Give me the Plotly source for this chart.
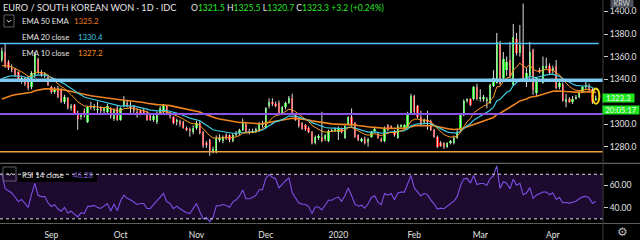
import plotly.graph_objects as go
import pandas as pd

# ---------------- data ----------------
DATES = pd.bdate_range("2019-08-12", "2020-04-20")

OPEN = [
    # Aug
    1357, 1364, 1355, 1350, 1349, 1346, 1339, 1341, 1341, 1333, 1343, 1358, 1345, 1343, 1342,
    # Sep
    1333, 1329, 1332, 1330, 1320, 1323, 1314, 1317, 1310, 1306, 1312, 1302, 1316, 1314, 1313, 1315, 1312, 1311, 1314, 1305, 1314,
    # Oct
    1304, 1316, 1319, 1316, 1315, 1311, 1312, 1311, 1310, 1308, 1304, 1302, 1310, 1311, 1316, 1309, 1306, 1302, 1303, 1302, 1297, 1295, 1293,
    # Nov
    1297, 1301, 1293, 1283, 1286, 1276, 1275, 1286, 1285, 1290, 1290, 1285, 1290, 1292, 1295, 1300, 1294, 1293, 1294, 1294, 1300,
    # Dec
    1297, 1316, 1319, 1318, 1319, 1310, 1315, 1319, 1323, 1308, 1304, 1301, 1299, 1297, 1293, 1283, 1288, 1289, 1287, 1285, 1294, 1294,
    # Jan
    1293, 1296, 1288, 1300, 1306, 1301, 1290, 1285, 1287, 1284, 1289, 1294, 1291, 1287, 1285, 1299, 1298, 1294, 1288, 1298, 1297, 1297, 1310,
    # Feb
    1325, 1316, 1306, 1302, 1304, 1303, 1295, 1289, 1283, 1283, 1280, 1283, 1283, 1288, 1295, 1308, 1321, 1322, 1322, 1333,
    # Mar
    1322, 1322, 1321, 1319, 1334, 1337, 1372, 1341, 1348, 1357, 1335, 1376, 1363, 1370, 1340, 1343, 1366, 1328, 1348, 1337, 1350, 1352,
    # Apr
    1347, 1352, 1333, 1336, 1320, 1322, 1320, 1323, 1324, 1329, 1333, 1334, 1331, 1321.5,
]
HIGH = [
    1368, 1372, 1357, 1353, 1350, 1347, 1343, 1342, 1343, 1347, 1364, 1359, 1348, 1346, 1344,
    1334, 1333, 1334, 1332, 1326, 1324, 1318, 1318, 1312, 1310, 1314, 1316, 1320, 1318, 1320, 1316, 1315, 1318, 1315, 1314, 1316,
    1315, 1325, 1321, 1320, 1317, 1314, 1313, 1314, 1312, 1309, 1309, 1311, 1316, 1318, 1317, 1311, 1307, 1305, 1304, 1303, 1298, 1297, 1299,
    1303, 1303, 1294, 1285, 1287, 1280, 1290, 1291, 1290, 1292, 1291, 1292, 1294, 1296, 1305, 1302, 1296, 1296, 1297, 1302, 1303,
    1315, 1323, 1323, 1320, 1321, 1316, 1320, 1325, 1327, 1309, 1306, 1302, 1300, 1298, 1294, 1290, 1291, 1311, 1291, 1295, 1296, 1297,
    1298, 1297, 1299, 1307, 1314, 1302, 1291, 1288, 1289, 1288, 1294, 1297, 1293, 1288, 1298, 1300, 1299, 1295, 1300, 1300, 1300, 1311, 1327,
    1326, 1317, 1312, 1305, 1312, 1304, 1296, 1290, 1285, 1284, 1284, 1286, 1290, 1296, 1309, 1322, 1323, 1323, 1334, 1336,
    1331, 1326, 1324, 1336, 1348, 1381, 1374, 1364, 1360, 1373, 1389, 1381, 1388, 1407, 1350, 1373, 1367, 1342, 1350, 1360, 1359, 1354,
    1352, 1357, 1338, 1337, 1327, 1324, 1325, 1326, 1330, 1334, 1338, 1336, 1332, 1325.5,
]
LOW = [
    1355, 1350, 1348, 1346, 1342, 1338, 1336, 1334, 1330, 1331, 1341, 1344, 1342, 1341, 1334,
    1327, 1327, 1323, 1319, 1318, 1313, 1312, 1309, 1295, 1304, 1306, 1301, 1313, 1312, 1310, 1310, 1310, 1309, 1305, 1303, 1303,
    1303, 1315, 1315, 1310, 1310, 1306, 1308, 1309, 1303, 1303, 1302, 1300, 1309, 1310, 1308, 1305, 1300, 1299, 1298, 1296, 1294, 1289, 1291,
    1295, 1291, 1279, 1279, 1272, 1274, 1274, 1284, 1283, 1286, 1284, 1284, 1289, 1290, 1294, 1292, 1291, 1292, 1292, 1293, 1297,
    1296, 1314, 1316, 1315, 1309, 1308, 1313, 1318, 1309, 1303, 1297, 1295, 1294, 1292, 1282, 1282, 1286, 1284, 1285, 1284, 1293, 1293,
    1286, 1292, 1287, 1299, 1298, 1288, 1285, 1284, 1282, 1280, 1288, 1292, 1287, 1284, 1284, 1294, 1296, 1289, 1287, 1297, 1296, 1296, 1309,
    1310, 1305, 1299, 1300, 1295, 1294, 1288, 1279, 1280, 1278, 1279, 1282, 1282, 1287, 1294, 1307, 1319, 1316, 1321, 1321,
    1320, 1320, 1314, 1318, 1333, 1336, 1335, 1339, 1343, 1341, 1334, 1361, 1360, 1338, 1333, 1340, 1326, 1325, 1345, 1336, 1349, 1344,
    1345, 1331, 1331, 1320, 1315, 1319, 1318, 1322, 1323, 1328, 1331, 1329, 1318, 1320.7,
]
CLOSE = [
    1365, 1352, 1350, 1348, 1344, 1339, 1341, 1336, 1332, 1345, 1361, 1346, 1344, 1344, 1335,
    1329, 1331, 1324, 1320, 1324, 1314, 1316, 1310, 1305, 1309, 1308, 1315, 1315, 1316, 1313, 1312, 1314, 1316, 1307, 1313, 1304,
    1314, 1321, 1317, 1315, 1312, 1309, 1310, 1310, 1304, 1304, 1307, 1310, 1314, 1317, 1309, 1307, 1301, 1303, 1300, 1297, 1295, 1294, 1297,
    1301, 1292, 1281, 1282, 1275, 1278, 1288, 1288, 1289, 1288, 1286, 1290, 1292, 1295, 1301, 1293, 1293, 1294, 1296, 1301, 1301,
    1314, 1320, 1318, 1317, 1310, 1315, 1319, 1323, 1310, 1304, 1298, 1296, 1296, 1293, 1283, 1289, 1289, 1285, 1290, 1294, 1294, 1296,
    1297, 1293, 1298, 1306, 1299, 1289, 1286, 1287, 1283, 1287, 1293, 1295, 1288, 1285, 1297, 1295, 1297, 1290, 1298, 1299, 1299, 1310, 1325,
    1311, 1306, 1300, 1304, 1302, 1295, 1289, 1280, 1281, 1280, 1283, 1285, 1288, 1293, 1308, 1321, 1322, 1317, 1333, 1322,
    1324, 1324, 1322, 1335, 1341, 1373, 1336, 1358, 1355, 1343, 1377, 1363, 1370, 1339, 1345, 1364, 1330, 1341, 1346, 1352, 1352, 1345,
    1350, 1332, 1337, 1321, 1322, 1320, 1322, 1324, 1329, 1333, 1334, 1331, 1320.1, 1323.3,
]

# EMA (period, value just before first visible bar, colour, width)
EMA_SPECS = [(50, 1320.5, "#ee8420", 1.6), (20, 1338.0, "#3fcbe0", 1.2), (10, 1349.0, "#ff9a1f", 1.0)]
RSI_PERIOD = 14
RSI_SEED_GAIN, RSI_SEED_LOSS, RSI_PREV_CLOSE = 2.4, 1.2, 1357.0

LEVELS = [1371.6, 1339.0, 1309.0, 1275.6]
LEVEL_COLORS = ["#4fc3f7", "#7fcaf5", "#8a55e6", "#f0a040"]
LEVEL_WIDTHS = [1.5, 3.5, 2.0, 1.5]

# 1320.0 is hidden behind the last-price label in the reference
PRICE_TICKS = [1280, 1300, 1340, 1360, 1380, 1400]
RSI_TICKS = [40, 60]
RSI_BANDS = [30, 70]
MONTH_TICK_DATES = ["2019-09-02", "2019-10-01", "2019-11-01", "2019-12-02",
                    "2020-01-01", "2020-02-03", "2020-03-02", "2020-04-01"]
MONTH_TICK_LABELS = ["Sep", "Oct", "Nov", "Dec", "2020", "Feb", "Mar", "Apr"]

LEGEND_ROWS = [("EMA 50 EMA", "1325.2", "#f07a1a"),
               ("EMA 20 close", "1330.4", "#3fcbe0"),
               ("EMA 10 close", "1327.2", "#ff8c1a")]
RSI_LAST = "46.28"
COUNTDOWN = "20:05:17"
TITLE = "EURO / SOUTH KOREAN WON · 1D · IDC"

assert len(OPEN) == len(HIGH) == len(LOW) == len(CLOSE) == len(DATES)

# ---------------- derived ----------------
n = len(CLOSE)
idx = list(range(n))
tickvals = [DATES.get_loc(pd.Timestamp(d)) for d in MONTH_TICK_DATES]


def ema(values, period, seed):
    k = 2.0 / (period + 1)
    out, e = [], seed
    for v in values:
        e = e + k * (v - e)
        out.append(e)
    return out


def rsi(values, period, g0, l0, prev):
    out, ag, al = [], g0, l0
    for v in values:
        ch = v - prev
        ag = (ag * (period - 1) + max(ch, 0)) / period
        al = (al * (period - 1) + max(-ch, 0)) / period
        out.append(100 - 100 / (1 + ag / al))
        prev = v
    return out


GREEN, RED = "#1ee61e", "#f21414"
FONT = "Lato"
PW, H = 603.0, 240.0
XR = [-0.55, 182.2]


def px(x):
    return x / PW


def py(y):
    return 1 - y / H


fig = go.Figure()

# wicks
wx, wy = [], []
for i in idx:
    wx += [i, i, None]
    wy += [LOW[i], HIGH[i], None]
fig.add_trace(go.Scatter(x=wx, y=wy, mode="lines", line=dict(color="#dcdcdc", width=1),
                         hoverinfo="skip", xaxis="x", yaxis="y"))
# bodies
up = [i for i in idx if CLOSE[i] >= OPEN[i]]
dn = [i for i in idx if CLOSE[i] < OPEN[i]]
for sel, col in ((up, GREEN), (dn, RED)):
    fig.add_trace(go.Bar(x=sel, base=[min(OPEN[i], CLOSE[i]) for i in sel],
                         y=[max(abs(CLOSE[i] - OPEN[i]), 0.4) for i in sel],
                         width=0.72, marker=dict(color=col, line=dict(width=0)),
                         hoverinfo="skip", xaxis="x", yaxis="y"))
# EMAs
for period, seed, col, w in EMA_SPECS:
    fig.add_trace(go.Scatter(x=idx, y=ema(CLOSE, period, seed), mode="lines",
                             line=dict(color=col, width=w), hoverinfo="skip",
                             xaxis="x", yaxis="y"))
# RSI
fig.add_trace(go.Scatter(x=idx, y=rsi(CLOSE, RSI_PERIOD, RSI_SEED_GAIN, RSI_SEED_LOSS, RSI_PREV_CLOSE),
                         mode="lines", line=dict(color="#7e4fe6", width=1.1),
                         hoverinfo="skip", xaxis="x2", yaxis="y2"))

shapes = []
# RSI band fill
shapes.append(dict(type="rect", xref="paper", yref="y2", x0=0, x1=1, y0=RSI_BANDS[0], y1=RSI_BANDS[1],
                   fillcolor="#1c0b2e", line=dict(width=0), layer="below"))
# RSI legend backing
shapes.append(dict(type="rect", xref="paper", yref="paper", x0=px(18), x1=px(97), y0=py(182), y1=py(167),
                   fillcolor="#000000", line=dict(width=0), layer="below"))
for b in RSI_BANDS:
    shapes.append(dict(type="line", xref="paper", yref="y2", x0=0, x1=1, y0=b, y1=b,
                       line=dict(color="#d8d8d8", width=1, dash="3px,3px"), layer="above"))
# horizontal drawn levels
for j, (lv, c, w) in enumerate(zip(LEVELS, LEVEL_COLORS, LEVEL_WIDTHS)):
    shapes.append(dict(type="line", xref="paper", yref="y", x0=0, x1=(0.993 if j == 0 else 1),
                       y0=lv, y1=lv, line=dict(color=c, width=w), layer="above"))
# pane separators & axis border
shapes.append(dict(type="line", xref="paper", yref="paper", x0=0, x1=640 / PW, y0=py(163.3), y1=py(163.3),
                   line=dict(color="#7a7a7a", width=1)))
shapes.append(dict(type="line", xref="paper", yref="paper", x0=0, x1=640 / PW, y0=py(223.5), y1=py(223.5),
                   line=dict(color="#5e5e5e", width=1)))
shapes.append(dict(type="line", xref="paper", yref="paper", x0=1, x1=1, y0=0, y1=1,
                   line=dict(color="#3c3c3c", width=1)))
# legend chevron boxes
for (bx0, by0, bx1, by1) in ((4, 15, 14, 27), (3, 167, 16, 181)):
    shapes.append(dict(type="rect", xref="paper", yref="paper", x0=px(bx0), x1=px(bx1), y0=py(by1), y1=py(by0),
                       line=dict(color="#5c606b", width=1), fillcolor="rgba(0,0,0,0)"))
    cx, cy = (bx0 + bx1) / 2, (by0 + by1) / 2
    path = f"M {px(cx-2.2)} {py(cy-1)} L {px(cx)} {py(cy+1.2)} L {px(cx+2.2)} {py(cy-1)}"
    shapes.append(dict(type="path", xref="paper", yref="paper", path=path,
                       line=dict(color="#e0e0e0", width=1)))
# yellow circle around the last candle
shapes.append(dict(type="circle", xref="x", yref="y", x0=idx[-1] - 0.95, x1=idx[-1] + 1.1,
                   y0=CLOSE[-1] - 5.2, y1=CLOSE[-1] + 8.4, line=dict(color="#f2d21b", width=2)))

ann = []


def text(x, y, s, color="#e6e6e6", size=9, anchor="left", **kw):
    ann.append(dict(xref="paper", yref="paper", x=px(x), y=py(y), text=s, showarrow=False,
                    xanchor=anchor, yanchor="middle", borderpad=0,
                    font=dict(family=FONT, size=size, color=color), **kw))


text(2, 8, TITLE, size=9.2)
g = "#2ae62a"
chg = CLOSE[-1] - CLOSE[-2]
pct = chg / CLOSE[-2] * 100
ohlc = (f"O<span style='color:{g}'>{OPEN[-1]:.1f}</span> H<span style='color:{g}'>{HIGH[-1]:.1f}</span> "
        f"L<span style='color:{g}'>{LOW[-1]:.1f}</span> C<span style='color:{g}'>{CLOSE[-1]:.1f}</span> "
        f"<span style='color:{g}'>{chg:+.1f} ({pct:+.2f}%)</span>")
text(190, 8, ohlc, size=8.6)
for k, ((lab, val, col), yy) in enumerate(zip(LEGEND_ROWS, (21, 36.7, 52.7))):
    text(21, yy, lab, size=7.8)
    text(72.5 if k == 0 else 76.5, yy, val, color=col, size=7.8)
text(21, 174.5, "RSI 14 close", size=7.8)
text(72, 174.5, RSI_LAST, color="#7f5bd6", size=7.8)

# right-side boxes
ann.append(dict(xref="paper", yref="paper", x=px(621.5), y=py(3), text="KRW", showarrow=False,
                xanchor="center", yanchor="middle", bgcolor="#4b4f5b", width=22, height=8, borderpad=0,
                font=dict(family=FONT, size=7, color="#d6d6d6")))
ann.append(dict(xref="paper", yref="y", x=px(618.5), y=CLOSE[-1], text=f"{CLOSE[-1]:.1f}", showarrow=False,
                xanchor="center", yanchor="middle", bgcolor=GREEN, width=31, height=8, borderpad=0,
                font=dict(family=FONT, size=7.8, color="#f4fff4")))
ann.append(dict(xref="paper", yref="paper", x=px(621), y=py(109.5), text=COUNTDOWN, showarrow=False,
                xanchor="center", yanchor="middle", bgcolor=GREEN, width=36, height=8, borderpad=0,
                font=dict(family=FONT, size=7.8, color="#f4fff4")))
ann.append(dict(xref="paper", yref="paper", x=px(622), y=py(232), text="⚙", showarrow=False,
                xanchor="center", yanchor="middle",
                font=dict(family="DejaVu Sans", size=12, color="#b8b8b8")))

axfont = dict(family=FONT, size=8.5, color="#e2e2e2")
fig.update_layout(
    width=640, height=240, margin=dict(l=0, r=37, t=0, b=0),
    paper_bgcolor="#000000", plot_bgcolor="#000000", showlegend=False,
    barmode="overlay", bargap=0,
    xaxis=dict(domain=[0, 1], range=XR, showticklabels=False, showgrid=False, zeroline=False,
               anchor="y", fixedrange=True),
    yaxis=dict(domain=[py(163.3), 1], range=[1265.3, 1410.2], side="right", tickvals=PRICE_TICKS,
               ticktext=[f"{v:.1f}" for v in PRICE_TICKS], ticks="outside", ticklen=4,
               tickcolor="#cfcfcf", tickfont=axfont, showgrid=False, zeroline=False, anchor="x"),
    xaxis2=dict(domain=[0, 1], range=XR, tickvals=tickvals, ticktext=MONTH_TICK_LABELS, ticks="",
                ticklabelstandoff=5, tickfont=axfont, showgrid=False, zeroline=False, anchor="y2"),
    yaxis2=dict(domain=[py(223.5), py(164)], range=[25.8, 79.2], side="right", tickvals=RSI_TICKS,
                ticktext=[f"{v:.2f}" for v in RSI_TICKS], ticks="outside", ticklen=4,
                tickcolor="#cfcfcf", tickfont=axfont, showgrid=False, zeroline=False, anchor="x2"),
    shapes=shapes, annotations=ann,
)

fig.write_html("out.html", config={"displayModeBar": False})
